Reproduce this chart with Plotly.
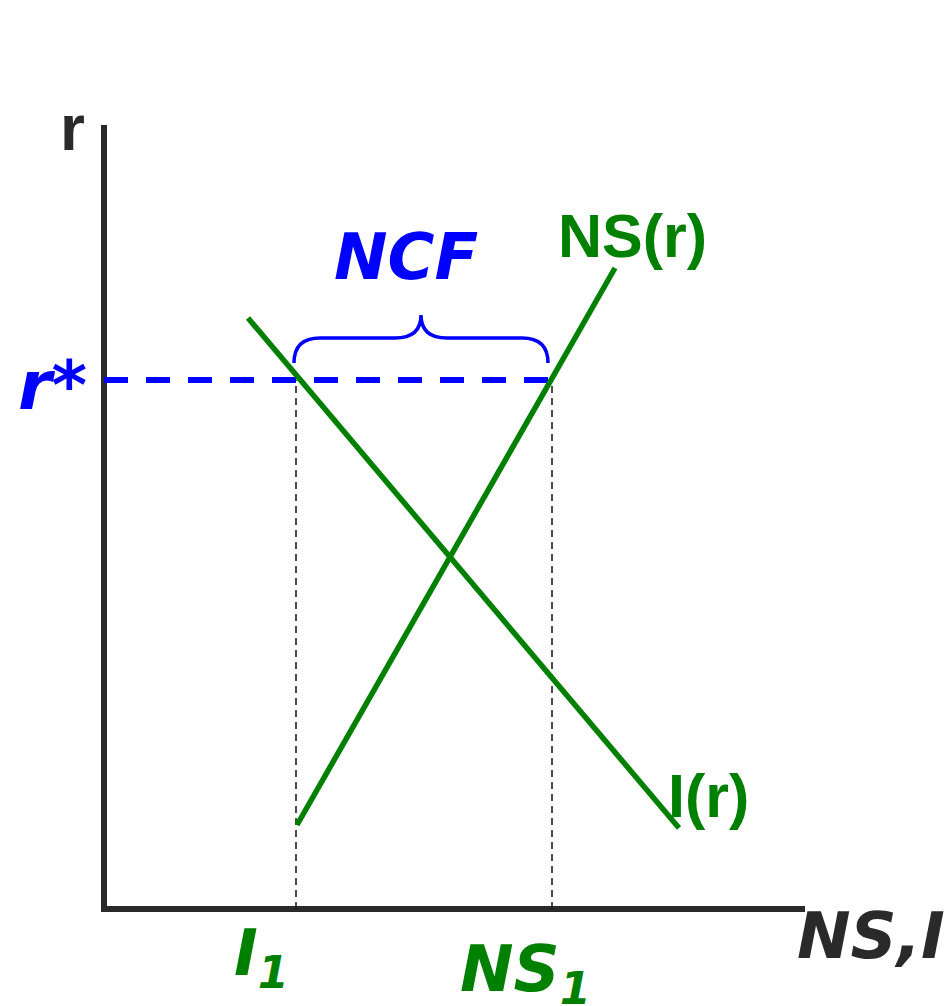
import plotly.graph_objects as go

# ---- data (units: chart units measured from the axis origin) ----
axis_x_end = 701
axis_y_end = 784
i_curve_x = [144, 575]
i_curve_y = [591, 81]
ns_curve_x = [193, 511]
ns_curve_y = [84, 641]
r_star = 529
i1 = 192
ns1 = 448

GREEN = "#008000"
BLUE = "#0000ff"
DARK = "#2a2a2a"
ITAL = "DejaVu Sans"
SANS = "Liberation Sans, Arial"

fig = go.Figure()

# axes
fig.add_trace(go.Scatter(x=[0, 0, axis_x_end], y=[axis_y_end, 0, 0], mode="lines",
                         line=dict(color=DARK, width=6), hoverinfo="skip"))
# guide lines
for xv in (i1, ns1):
    fig.add_trace(go.Scatter(x=[xv, xv], y=[0, r_star], mode="lines",
                             line=dict(color="#111111", width=1.5, dash="7px,5px"), hoverinfo="skip"))
# r* dashed line
fig.add_trace(go.Scatter(x=[0, ns1], y=[r_star, r_star], mode="lines",
                         line=dict(color=BLUE, width=6, dash="24px,18px"), hoverinfo="skip"))
# curves
fig.add_trace(go.Scatter(x=i_curve_x, y=i_curve_y, mode="lines",
                         line=dict(color=GREEN, width=5.5), hoverinfo="skip"))
fig.add_trace(go.Scatter(x=ns_curve_x, y=ns_curve_y, mode="lines",
                         line=dict(color=GREEN, width=5.5), hoverinfo="skip"))

# brace between I1 and NS1 above r*
l, r = i1 - 2, ns1 - 4
m = (l + r) / 2
y0, y1, y2 = r_star + 17, r_star + 42, r_star + 65
path = (f"M {l},{y0} Q {l},{y1} {l+26},{y1} L {m-26},{y1} Q {m},{y1} {m},{y2} "
        f"Q {m},{y1} {m+26},{y1} L {r-26},{y1} Q {r},{y1} {r},{y0}")
fig.add_shape(type="path", path=path, xref="x", yref="y",
              line=dict(color=BLUE, width=3.5))

def ann(text, x, y, color, family, size, xanchor="center", yanchor="middle", italic=False):
    t = f"<b><i>{text}</i></b>" if italic else f"<b>{text}</b>"
    fig.add_annotation(x=x, y=y, text=t, showarrow=False, xanchor=xanchor, yanchor=yanchor,
                       font=dict(color=color, family=family, size=size))

ann("r", -32, 781, DARK, SANS, 64)
ann("r*", -52, r_star - 5, BLUE, ITAL, 68, italic=True)
ann("NCF", 302, 652, BLUE, ITAL, 64, italic=True)
ann("NS(r)", 528, 673, GREEN, SANS, 61)
ann("I(r)", 604, 113, GREEN, SANS, 61)
ann("NS,I", 767, -27, DARK, ITAL, 64, italic=True)
ann("I<sub>1</sub>", i1 - 35, -48, GREEN, ITAL, 64, italic=True)
ann("NS<sub>1</sub>", ns1 - 27, -64, GREEN, ITAL, 64, italic=True)

fig.update_layout(
    width=951, height=1006, margin=dict(l=0, r=0, t=0, b=0),
    paper_bgcolor="white", plot_bgcolor="white", showlegend=False,
    xaxis=dict(range=[-104, 847], visible=False, fixedrange=True),
    yaxis=dict(range=[-97, 909], visible=False, fixedrange=True),
)
fig.write_html("out.html", config={"displayModeBar": False},
               post_script="document.body.style.margin='0';document.body.style.overflow='hidden';")
